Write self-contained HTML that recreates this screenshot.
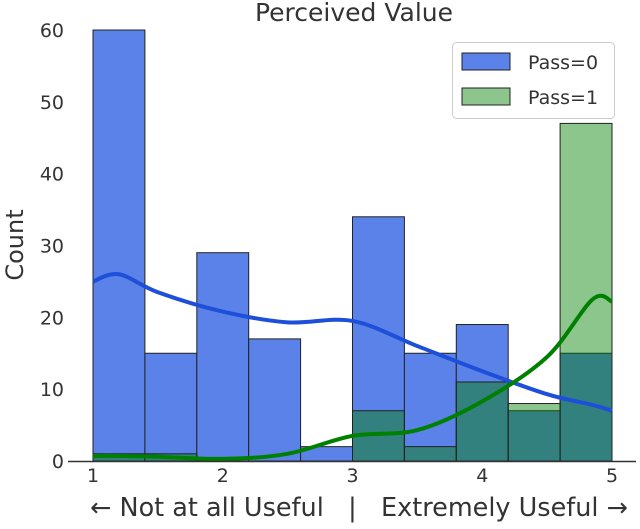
<!DOCTYPE html>
<html><head><meta charset="utf-8"><style>
body{margin:0;background:#fff}
svg text{font-family:"DejaVu Sans","Liberation Sans",sans-serif;fill:#333;white-space:pre}
</style></head><body>
<svg id="c" width="640" height="524"></svg>
<script>
const binEdgesStart = 1, binWidth = 0.4;
const pass0Counts = [60,15,29,17,2,34,15,19,7,15];
const pass1Counts = [1,1,0,0,0,7,2,11,8,47];
const kdeX = [1,1.2,1.5,2,2.5,3,3.5,4,4.5,4.85,5];
const kde0 = [25,26,23.5,20.8,19.3,19.5,16,12.5,9.3,7.8,7];
const kde1 = [0.7,0.7,0.6,0.3,1,3.5,4.3,8.3,14.5,22.5,22.2];
const xTicks = [1,2,3,4,5];
const yTicks = [0,10,20,30,40,50,60];
const NS='http://www.w3.org/2000/svg';
const svg=document.getElementById('c');
const X=v=>93+(v-1)*129.75, Y=v=>461-v*7.183;
function el(t,a,p){const e=document.createElementNS(NS,t);for(const k in a)e.setAttribute(k,a[k]);(p||svg).appendChild(e);return e;}
function txt(s,a){const e=el('text',a);e.textContent=s;return e;}
pass0Counts.forEach((c,i)=>{const x0=X(binEdgesStart+i*binWidth),x1=X(binEdgesStart+(i+1)*binWidth);
 const r=el('rect',{x:x0,y:Y(c),width:x1-x0,height:Y(0)-Y(c),fill:'#5b82e8',stroke:'#222','stroke-width':1});
 });
pass1Counts.forEach((c,i)=>{if(!c)return;const x0=X(binEdgesStart+i*binWidth),x1=X(binEdgesStart+(i+1)*binWidth);
 const r=el('rect',{x:x0,y:Y(c),width:x1-x0,height:Y(0)-Y(c),fill:'rgba(0,128,0,0.45)',stroke:'#222','stroke-width':1});
 });
function curve(ys){const p=kdeX.map((x,i)=>[X(x),Y(ys[i])]);let d='M'+p[0];
 for(let i=0;i<p.length-1;i++){const a=p[i-1]||p[i],b=p[i],c=p[i+1],e=p[i+2]||c;
  d+=' C'+(b[0]+(c[0]-a[0])/6)+','+(b[1]+(c[1]-a[1])/6)+' '+(c[0]-(e[0]-b[0])/6)+','+(c[1]-(e[1]-b[1])/6)+' '+c;}return d;}
let k=el('path',{d:curve(kde0),fill:'none',stroke:'#1d4fd8','stroke-width':4});

k=el('path',{d:curve(kde1),fill:'none',stroke:'#008000','stroke-width':4});

el('line',{x1:68,x2:636,y1:461.5,y2:461.5,stroke:'#333','stroke-width':1.5});
xTicks.forEach(t=>{const e=txt(t,{x:X(t),y:482,'font-size':19,'text-anchor':'middle'});});
yTicks.forEach(t=>{const e=txt(t,{x:64,y:Y(t)+7,'font-size':19,'text-anchor':'end'});});
</script>
<svg width="640" height="524" style="position:absolute;left:0;top:0">
<text x="354" y="21" font-size="25" text-anchor="middle">Perceived Value</text>
<text x="359" y="516" font-size="25.5" text-anchor="middle" xml:space="preserve">← Not at all Useful   |   Extremely Useful →</text>
<text transform="translate(23,245) rotate(-90)" font-size="24" text-anchor="middle">Count</text>
<g>
<rect x="452.5" y="42.5" width="162" height="76" rx="4" fill="#fff" fill-opacity="0.8" stroke="#ccc"/>
<rect x="462" y="53" width="48" height="17" fill="#5b82e8" stroke="#222"/>
<text x="528" y="69" font-size="19">Pass=0</text>
<rect x="462" y="88" width="48" height="17" fill="#8cc68c" stroke="#222"/>
<text x="528" y="104" font-size="19">Pass=1</text>
</g>
</svg>
</body></html>
